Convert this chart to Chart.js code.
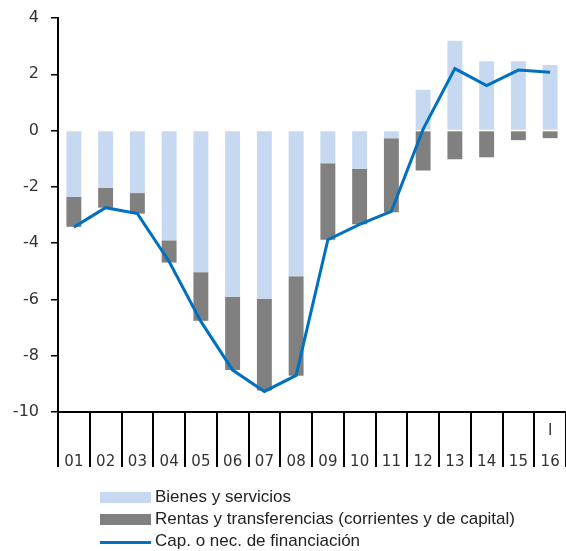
<!DOCTYPE html>
<html>
<head>
<meta charset="utf-8">
<script src="https://cdn.jsdelivr.net/npm/chart.js@4.4.1/dist/chart.umd.min.js"></script>
<style>
  html, body { margin: 0; padding: 0; background: #fff; }
  #wrap { position: relative; width: 566px; height: 551px; }
  #legend { position: absolute; left: 100px; top: 486px; font-family: "Liberation Sans", Arial, sans-serif; font-size: 17px; color: #222; }
  .row { height: 22px; line-height: 22px; display: flex; align-items: center; white-space: nowrap; }
  .sw { width: 51px; height: 11px; margin-right: 4px; }
  .ln { width: 51px; height: 3px; margin-right: 4px; margin-top: 2px; }
</style>
</head>
<body>
<div id="wrap">
  <canvas id="myChart" width="566" height="551"></canvas>
  <div id="legend"></div>
</div>
<script>
// données (% du PIB)
const years = ['01','02','03','04','05','06','07','08','09','10','11','12','13','14','15','16'];
const quarterMark = ['','','','','','','','','','','','','','','','I'];
const bienes = [-2.36,-2.03,-2.22,-3.9,-5.03,-5.91,-5.98,-5.18,-1.16,-1.36,-0.27,1.45,3.19,2.46,2.46,2.33];
const rentas = [-1.06,-0.71,-0.73,-0.79,-1.73,-2.6,-3.26,-3.53,-2.72,-1.97,-2.63,-1.42,-1.02,-0.95,-0.34,-0.27];
const capNec = [-3.43,-2.74,-2.95,-4.65,-6.78,-8.51,-9.27,-8.7,-3.88,-3.33,-2.87,0.05,2.2,1.6,2.15,2.07];
const yTicks = { min: -10, max: 4, step: 2 };

const names = ['Bienes y servicios', 'Rentas y transferencias (corrientes y de capital)', 'Cap. o nec. de financiación'];
const colors = ['#C6D9F0', '#808080', '#0070C0'];

const labels = years.map((y, i) => [quarterMark[i], y]);
const fam = '"DejaVu Sans", sans-serif';

const ctx = document.getElementById('myChart');
const myChart = new Chart(ctx, {
  type: 'bar',
  data: {
    labels: labels,
    datasets: [
      { label: names[0], data: bienes, backgroundColor: colors[0], stack: 'saldo', order: 1,
        categoryPercentage: 1, barPercentage: 0.47 },
      { label: names[1], data: rentas, backgroundColor: colors[1], stack: 'saldo', order: 1,
        categoryPercentage: 1, barPercentage: 0.47 },
      { type: 'line', label: names[2], data: capNec, borderColor: colors[2], borderWidth: 3,
        pointRadius: 0, tension: 0, fill: false, stack: 'linea', order: 0 }
    ]
  },
  options: {
    responsive: false,
    animation: false,
    layout: { padding: { top: 18, right: 0, bottom: 81, left: 0 } },
    plugins: { legend: { display: false }, tooltip: { enabled: false }, title: { display: false } },
    scales: {
      x: {
        stacked: true,
        grid: { display: true, offset: true, drawOnChartArea: false, drawTicks: true,
                tickLength: 55, color: '#000', lineWidth: 2 },
        border: { display: true, color: '#000', width: 2 },
        ticks: { color: '#333', font: { family: fam, size: 15, lineHeight: 2.07 },
                 padding: -51, maxRotation: 0, autoSkip: false },
        afterFit: (scale) => { scale.height = 58; scale.paddingLeft = 0; scale.paddingRight = 0; }
      },
      y: {
        stacked: true,
        min: yTicks.min, max: yTicks.max,
        grid: { display: true, drawOnChartArea: false, drawTicks: true, tickLength: 7,
                color: '#000', lineWidth: 1.5 },
        border: { display: true, color: '#000', width: 2 },
        ticks: { stepSize: yTicks.step, color: '#333', font: { family: fam, size: 16 }, padding: 12 },
        afterFit: (scale) => { scale.width = 58; scale.paddingTop = 0; scale.paddingBottom = 0; }
      }
    }
  }
});

// légende à gauche, une entrée par ligne
const legend = document.getElementById('legend');
names.forEach((n, i) => {
  const row = document.createElement('div');
  row.className = 'row';
  const sw = document.createElement('div');
  sw.className = i < 2 ? 'sw' : 'ln';
  sw.style.background = colors[i];
  const txt = document.createElement('span');
  txt.textContent = n;
  row.appendChild(sw);
  row.appendChild(txt);
  legend.appendChild(row);
});
</script>
</body>
</html>
